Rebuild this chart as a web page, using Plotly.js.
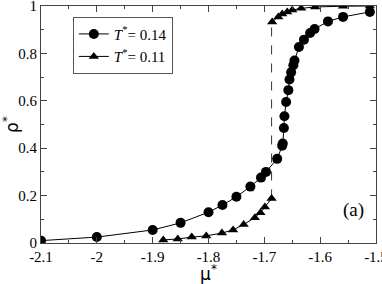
<!DOCTYPE html>
<html><head><meta charset="utf-8">
<script src="https://cdn.plot.ly/plotly-3.0.1.min.js"></script>
<style>body{margin:0;padding:0;background:#fff}#chart{width:382px;height:284px}</style>
</head><body><div id="chart"></div>
<script>
var circX = [-2.10,-2.00,-1.90,-1.85,-1.80,-1.775,-1.75,-1.725,-1.706,-1.697,-1.677,-1.668,-1.667,-1.665,-1.664,-1.661,-1.657,-1.655,-1.652,-1.648,-1.646,-1.638,-1.629,-1.618,-1.610,-1.586,-1.559,-1.511];
var circY = [0.01,0.025,0.055,0.085,0.13,0.16,0.195,0.238,0.276,0.30,0.355,0.41,0.42,0.485,0.535,0.595,0.645,0.69,0.72,0.75,0.77,0.827,0.858,0.886,0.903,0.935,0.954,0.975];
var triX = [-1.881,-1.855,-1.830,-1.804,-1.776,-1.756,-1.737,-1.717,-1.707,-1.699,-1.687,-1.686,-1.675,-1.668,-1.659,-1.650,-1.634,-1.609,-1.559,-1.511];
var triY = [0.013,0.017,0.025,0.03,0.042,0.055,0.078,0.107,0.128,0.152,0.188,0.933,0.954,0.966,0.975,0.983,0.99,0.996,0.999,1.0];
var triLowN = 11;
var dashX = [-1.687,-1.687];
var dashY = [0.188,0.933];
var xTicks = [-2.1,-2,-1.9,-1.8,-1.7,-1.6,-1.5];
var yTicks = [0,0.2,0.4,0.6,0.8,1];
var seriesNames = ['<i>T</i><sup>*</sup>= 0.14','<i>T</i><sup>*</sup>= 0.11'];

var serif = 'Liberation Serif';
var traces = [
  {x:dashX, y:dashY, mode:'lines', line:{color:'#333', width:1, dash:'dash'}, showlegend:false, hoverinfo:'skip'},
  {x:circX, y:circY, mode:'lines+markers', name:seriesNames[0],
   line:{color:'#000', width:1}, marker:{symbol:'circle', size:10, color:'#000'}},
  {x:triX.slice(0,triLowN), y:triY.slice(0,triLowN), mode:'lines+markers', name:seriesNames[1], legendgroup:'t',
   line:{color:'#000', width:1}, marker:{symbol:'triangle-up', size:9, color:'#000'}},
  {x:triX.slice(triLowN), y:triY.slice(triLowN), mode:'lines+markers', name:seriesNames[1], legendgroup:'t', showlegend:false,
   line:{color:'#000', width:1}, marker:{symbol:'triangle-up', size:9, color:'#000'}}
];
var axisCommon = {showgrid:false, zeroline:false, showline:true, linecolor:'#444', linewidth:1, mirror:'ticks',
  ticks:'inside', ticklen:6, tickcolor:'#444', ticklabeloverflow:'allow',
  tickfont:{family:serif, size:15, color:'#000'}};
var layout = {
  width:382, height:284, margin:{l:41, r:6, t:6, b:41},
  paper_bgcolor:'#fff', plot_bgcolor:'#fff',
  font:{family:serif},
  xaxis: Object.assign({}, axisCommon, {range:[-2.1,-1.5], tickvals:xTicks, ticktext:xTicks.map(String),
    minor:{dtick:0.05, tick0:-2.1, ticks:'inside', ticklen:3, tickcolor:'#444'},
    title:{text:'μ<sup>*</sup>', font:{family:'DejaVu Sans', size:17, color:'#000'}, standoff:8}}),
  yaxis: Object.assign({}, axisCommon, {range:[0,1], tickvals:yTicks, ticktext:yTicks.map(String),
    minor:{dtick:0.1, tick0:0, ticks:'inside', ticklen:3, tickcolor:'#444'},
    title:{text:'ρ<sup>*</sup>', font:{family:'DejaVu Sans', size:17, color:'#000'}, standoff:4}}),
  legend:{x:0.095, y:0.955, xanchor:'left', yanchor:'top', bordercolor:'#555', borderwidth:1, bgcolor:'#fff',
    font:{family:serif, size:15, color:'#000'}, tracegroupgap:0, itemwidth:30},
  annotations:[{x:-1.54, y:0.14, xref:'x', yref:'y', text:'(a)', showarrow:false, font:{family:serif, size:19, color:'#000'}}]
};
Plotly.newPlot('chart', traces, layout, {displayModeBar:false, staticPlot:true});
</script></body></html>
